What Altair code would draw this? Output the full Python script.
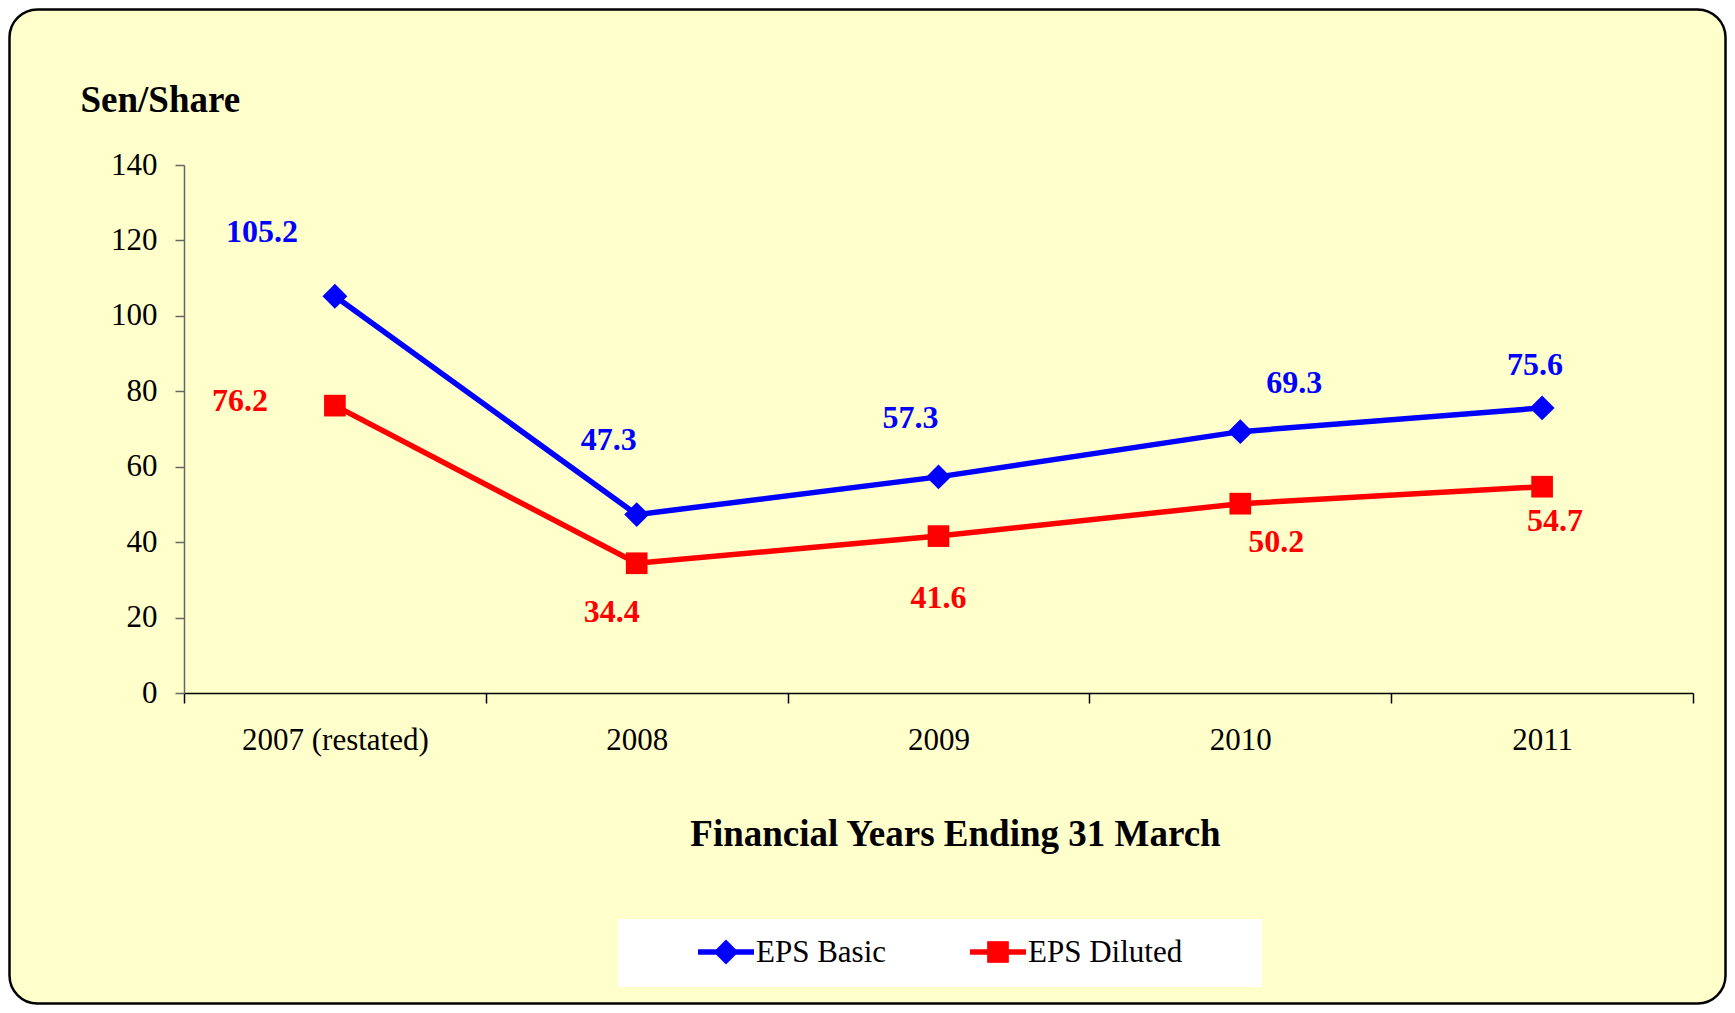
import altair as alt
import pandas as pd

categories = ["2007 (restated)", "2008", "2009", "2010", "2011"]
eps_basic = [105.2, 47.3, 57.3, 69.3, 75.6]
eps_diluted = [76.2, 34.4, 41.6, 50.2, 54.7]
series_names = ["EPS Basic", "EPS Diluted"]
series_colors = ["#0000FF", "#FF0000"]
series_shapes = ["diamond", "square"]
y_ticks = [0, 20, 40, 60, 80, 100, 120, 140]

rows = []
for s, vals in zip(series_names, [eps_basic, eps_diluted]):
    for c, v in zip(categories, vals):
        rows.append({"year": c, "value": v, "series": s, "label": f"{v:.1f}"})
df = pd.DataFrame(rows)

FONT = "Liberation Serif"
W, H = 1509, 528
PAD_L, PAD_T = 176, 157
TOTAL_W, TOTAL_H = 1719, 997

x_enc = alt.X(
    "year:N",
    sort=categories,
    scale=alt.Scale(type="band", paddingInner=0, paddingOuter=0, domain=categories),
    axis=alt.Axis(
        title="Financial Years Ending 31 March",
        titleFont=FONT, titleFontSize=37, titleFontWeight="bold", titleColor="black",
        titleX=771, titleY=141, titleBaseline="middle", titleAnchor="middle",
        labelFont=FONT, labelFontSize=31, labelColor="black", labelAngle=0, labelLimit=0,
        labelPadding=22, tickSize=10, tickBand="extent", tickColor="black",
        domainColor="black", domainWidth=1.5, tickWidth=1.5, grid=False, zindex=1,
    ),
)
y_enc = alt.Y(
    "value:Q",
    scale=alt.Scale(domain=[0, 140], nice=False, zero=True),
    axis=alt.Axis(
        title="Sen/Share", titleAngle=0, titleX=-104, titleY=-65,
        titleAlign="left", titleBaseline="middle",
        titleFont=FONT, titleFontSize=37, titleFontWeight="bold", titleColor="black",
        values=y_ticks, labelFont=FONT, labelFontSize=31, labelColor="black",
        labelPadding=18, tickSize=9, tickColor="#666666", domainColor="#666666",
        domainWidth=1.5, tickWidth=1.5, grid=False, zindex=1,
    ),
)

base = alt.Chart(df)

# background panel (decoration)
panel = alt.Chart(pd.DataFrame({"a": [0]})).mark_rect(
    fill="#FFFFCC", stroke="black", strokeWidth=2.5, cornerRadius=28
).encode(
    x=alt.value(-PAD_L + 1.5), x2=alt.value(TOTAL_W - PAD_L - 1.5),
    y=alt.value(-PAD_T + 1.5), y2=alt.value(TOTAL_H - PAD_T - 1.5),
)

lines = base.mark_line(strokeWidth=5.5).encode(
    x=x_enc, y=y_enc,
    color=alt.Color("series:N", scale=alt.Scale(domain=series_names, range=series_colors), legend=None),
)

layers = [panel, lines]
for s, col, shp, sz in zip(series_names, series_colors, series_shapes, [620, 470]):
    layers.append(
        base.transform_filter(alt.datum.series == s)
        .mark_point(shape=shp, filled=True, size=sz, opacity=1, color=col)
        .encode(x=alt.X("year:N", sort=categories), y="value:Q")
    )

# label offsets (dx, dy) per point, matched to the reference
offsets = {
    "EPS Basic": [(-73, -64), (-28, -75), (-28, -59), (54, -49), (-7, -43)],
    "EPS Diluted": [(-95, -5), (-25, 49), (0, 62), (36, 38), (13, 34)],
}
for s, col in zip(series_names, series_colors):
    for c, (dx, dy) in zip(categories, offsets[s]):
        layers.append(
            base.transform_filter((alt.datum.series == s) & (alt.datum.year == c))
            .mark_text(font=FONT, fontSize=32, fontWeight="bold", color=col,
                       dx=dx, dy=dy, align="center", baseline="middle")
            .encode(x=alt.X("year:N", sort=categories), y="value:Q", text="label:N")
        )

# legend (decoration)
leg = alt.Chart(pd.DataFrame({"a": [0]}))
layers.append(leg.mark_rect(fill="white").encode(
    x=alt.value(434), x2=alt.value(1078), y=alt.value(754), y2=alt.value(822)))
leg_x = [514, 786]
for i, (s, col, shp, sz) in enumerate(zip(series_names, series_colors, series_shapes, [620, 470])):
    x0 = leg_x[i]
    layers.append(leg.mark_rule(strokeWidth=5.5, color=col).encode(
        x=alt.value(x0), x2=alt.value(x0 + 56), y=alt.value(787), y2=alt.value(787)))
    layers.append(leg.mark_point(shape=shp, filled=True, size=sz, opacity=1, color=col).encode(
        x=alt.value(x0 + 28), y=alt.value(787)))
    layers.append(leg.mark_text(font=FONT, fontSize=31, color="black", align="left",
                                baseline="middle", text=s).encode(
        x=alt.value(x0 + 58), y=alt.value(788)))

chart = alt.layer(*layers).properties(
    width=W, height=H,
    padding={"left": PAD_L, "top": PAD_T, "right": TOTAL_W - PAD_L - W, "bottom": TOTAL_H - PAD_T - H},
    autosize=alt.AutoSizeParams(type="none"),
    background="white",
).configure_view(stroke=None)

chart.save("out.html", embed_options={"renderer": "svg", "actions": False})
